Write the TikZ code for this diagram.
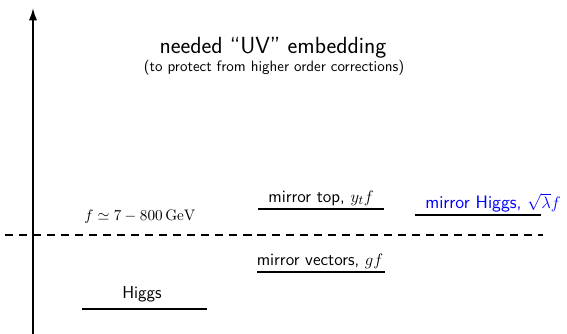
\documentclass[tikz,border=0pt]{standalone}
\usetikzlibrary{arrows.meta}
\begin{document}
\begin{tikzpicture}[x=0.72pt,y=-0.72pt,
  level/.style={line width=1.3pt},
  lbl/.style={font=\sffamily\fontsize{12.5}{15}\selectfont, inner sep=0pt},
  axis/.style={line width=1.3pt,-{Latex[length=9pt,width=6pt]}},
  divider/.style={line width=1pt,dash pattern=on 5.8pt off 4.3pt}]
  \useasboundingbox (0,0) rectangle (567,334);
  % energy axis
  \coordinate (axb) at (33,334);
  \coordinate (axt) at (33,8);
  \draw[axis] (axb) -- (axt);
  % UV scale
  \node[lbl, font=\sffamily\fontsize{16.8}{19}\selectfont] (uv) at (273,48) {needed ``UV'' embedding};
  \node[lbl, font=\sffamily\fontsize{10.8}{13}\selectfont] (uvsub) at (274,68) {(to protect from higher order corrections)};
  % scale f
  \coordinate (dl) at (5,235);
  \coordinate (dr) at (543,235);
  \draw[divider] (dl) -- (dr);
  \node[lbl, font=\fontsize{11.3}{14}\selectfont] (fscale) at (140,217) {$f\simeq 7-800\,\mathrm{GeV}$};
  % mirror states
  \coordinate (t1) at (258,209); \coordinate (t2) at (384,209);
  \draw[level] (t1) -- (t2);
  \node[lbl] (top) at (321,198) {mirror top, $y_t f$};
  \coordinate (h1) at (415,215); \coordinate (h2) at (541,215);
  \draw[level] (h1) -- (h2);
  \node[lbl, text=blue, font=\sffamily\fontsize{13}{15}\selectfont] (mh) at (493,203) {mirror Higgs, $\sqrt{\lambda} f$};
  \coordinate (v1) at (257,272); \coordinate (v2) at (385,272);
  \draw[level] (v1) -- (v2);
  \node[lbl] (vec) at (320,261) {mirror vectors, $gf$};
  % Higgs
  \coordinate (g1) at (82,309); \coordinate (g2) at (207,309);
  \draw[level] (g1) -- (g2);
  \node[lbl] (higgs) at (142,294) {Higgs};
\end{tikzpicture}
\end{document}
